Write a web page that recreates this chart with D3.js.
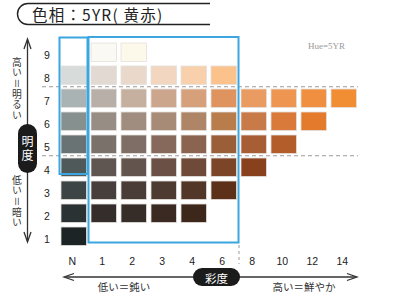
<!DOCTYPE html>
<html><head><meta charset="utf-8">
<script src="https://cdn.jsdelivr.net/npm/d3@7"></script>
<style>
html,body{margin:0;padding:0;background:#fff;}
svg{display:block;}
.vt{writing-mode:vertical-rl;}
</style></head>
<body>
<svg id="chart" width="398" height="293"></svg>
<script>
// ---- data ----
const chromaLabels = ["N","1","2","3","4","6","8","10","12","14"];
const valueLabels = [9,8,7,6,5,4,3,2,1];
// colours per value row, indexed by chroma label (null = no chip)
const row9 = [null,"#fbf9f4","#fdf9ea",null,null,null,null,null,null,null];
const row8 = ["#d7dcdb","#e2dad2","#ead9ca","#f2d6bf","#f8d0ac","#fbc28c",null,null,null,null];
const row7 = ["#a9b3b4","#b8afa8","#c5b09f","#cba68d","#d6a07a","#df945f","#ea9b61","#ef9552","#ef8f3f","#f18d32"];
const row6 = ["#86918f","#978d85","#a08d80","#a78b76","#ae8567","#b97c4b","#c87a48","#d97a3b","#e47a2c",null];
const row5 = ["#697373","#7b716b","#7e6e66","#86695b","#8b6450","#9a5e39","#a85e34","#b35e2a",null,null];
const row4 = ["#4f5959","#5f5551","#63544d","#6a5045","#6f4a38","#7c4527","#89401d",null,null,null];
const row3 = ["#3c4446","#473f3c","#4a3d37","#4d3a30","#523628","#5d3119",null,null,null,null];
const row2 = ["#2a3233","#342d2b","#362c28","#3a2a22","#3d271b",null,null,null,null,null];
const row1 = ["#1c2426",null,null,null,null,null,null,null,null,null];
const rows = [row9,row8,row7,row6,row5,row4,row3,row2,row1];
const title = "色相：5YR( 黄赤)";
const hueNote = "Hue=5YR";
const yAxisTitle = "明度";
const xAxisTitle = "彩度";
const yHigh = "高い＝明るい";
const yLow = "低い＝暗い";
const xLow = "低い＝鈍い";
const xHigh = "高い＝鮮やか";

// ---- drawing ----
const svg = d3.select("#chart");
const jp = "'Noto Sans CJK JP', sans-serif";
const sans = "'Liberation Sans', Arial, sans-serif";

const x = d3.scaleBand().domain(chromaLabels).range([58.75, 358.75]).paddingInner(0.15).paddingOuter(0.075);
const y = d3.scaleBand().domain(valueLabels).range([40.75, 247.75]).paddingInner(0.196).paddingOuter(0.098);

// title bracket box
svg.append("path")
  .attr("d","M210,3.5 H28 A10.5,10.5 0 0 0 28,24.5 H210")
  .attr("fill","none").attr("stroke","#222").attr("stroke-width",1.4);
svg.append("text").attr("x",32).attr("y",21).text(title)
  .attr("font-family",jp).attr("font-size",15.5).attr("letter-spacing",1.2).attr("fill","#222");

svg.append("text").attr("x",308).attr("y",49).text(hueNote)
  .attr("font-family","'Liberation Serif', 'DejaVu Serif', serif").attr("font-size",9).attr("fill","#999");

// chips
const cells = [];
rows.forEach((r,i)=>r.forEach((c,j)=>{ if(c) cells.push({v:valueLabels[i], ch:chromaLabels[j], c}); }));
svg.append("g").selectAll("rect").data(cells).join("rect")
  .attr("x",d=>x(d.ch)).attr("y",d=>y(d.v))
  .attr("width",x.bandwidth()).attr("height",y.bandwidth())
  .attr("fill",d=>d.c).attr("stroke","#e4e0dc").attr("stroke-width",0.8);

// dashed guide lines between 8/7 and 5/4
const yGuides = [[8,7],[5,4]];
svg.append("g").selectAll("line").data(yGuides).join("line")
  .attr("x1",42).attr("x2",358)
  .attr("y1",d=>(y(d[0])+y.bandwidth()+y(d[1]))/2)
  .attr("y2",d=>(y(d[0])+y.bandwidth()+y(d[1]))/2)
  .attr("stroke","#9a9a9a").attr("stroke-width",1.1).attr("stroke-dasharray","4,3");

// blue boxes
const blue = "#3ba6df";
svg.append("rect").attr("x",59.5).attr("y",37.5).attr("width",28).attr("height",136.5)
  .attr("fill","none").attr("stroke",blue).attr("stroke-width",2);
svg.append("rect").attr("x",88.5).attr("y",37).attr("width",150).attr("height",205.5)
  .attr("fill","none").attr("stroke",blue).attr("stroke-width",2);
svg.append("line").attr("x1",239).attr("x2",239).attr("y1",245).attr("y2",264)
  .attr("stroke","#9a9a9a").attr("stroke-width",1).attr("stroke-dasharray","3,3");

// axis tick labels
svg.append("g").selectAll("text").data(chromaLabels).join("text")
  .attr("x",d=>x(d)+x.bandwidth()/2 - 1.5).attr("y",265).attr("text-anchor","middle")
  .attr("font-family",sans).attr("font-size",10.5).attr("fill","#222").text(d=>d);
svg.append("g").selectAll("text").data(valueLabels).join("text")
  .attr("x",47).attr("y",d=>y(d)+y.bandwidth()/2+6.5).attr("text-anchor","middle")
  .attr("font-family",sans).attr("font-size",10.5).attr("fill","#222").text(d=>d);

// vertical arrow
const ax = svg.append("g").attr("stroke","#333").attr("fill","none").attr("stroke-width",1.3);
ax.append("line").attr("x1",27.5).attr("x2",27.5).attr("y1",40).attr("y2",241);
ax.append("path").attr("d","M24,49 L27.5,39 L31,49");
ax.append("path").attr("d","M24,232 L27.5,242 L31,232");
// horizontal arrow
ax.append("line").attr("x1",65).attr("x2",356).attr("y1",277).attr("y2",277);
ax.append("path").attr("d","M74,273.5 L64,277 L74,280.5");
ax.append("path").attr("d","M347,273.5 L357,277 L347,280.5");

// vertical labels (one text each, vertical writing)
function vtext(str, cx, y0){
  svg.append("text").attr("class","vt").attr("x",cx).attr("y",y0)
    .attr("font-family",jp).attr("font-size",9.8).attr("letter-spacing",0.9)
    .attr("fill","#333").text(str);
}
vtext(yHigh, 17, 57);
vtext(yLow, 17, 175);

// pills
svg.append("rect").attr("x",18).attr("y",124).attr("width",19).attr("height",49).attr("rx",9.5)
  .attr("fill","#1b1b1b");
svg.append("text").attr("class","vt").attr("x",27.5).attr("y",135)
  .attr("font-family",jp).attr("font-size",12).attr("letter-spacing",2)
  .attr("fill","#fff").text(yAxisTitle);
svg.append("rect").attr("x",193).attr("y",268).attr("width",47).attr("height",18).attr("rx",9)
  .attr("fill","#1b1b1b");
svg.append("text").attr("x",216.5).attr("y",277.5).attr("text-anchor","middle").attr("dominant-baseline","central")
  .attr("font-family",jp).attr("font-size",11.5).attr("fill","#fff").text(xAxisTitle);

svg.append("text").attr("x",124).attr("y",286).attr("text-anchor","middle").attr("dominant-baseline","central")
  .attr("font-family",jp).attr("font-size",10.5).attr("fill","#333").text(xLow);
svg.append("text").attr("x",304).attr("y",286).attr("text-anchor","middle").attr("dominant-baseline","central")
  .attr("font-family",jp).attr("font-size",10.5).attr("fill","#333").text(xHigh);
</script>
</body></html>
